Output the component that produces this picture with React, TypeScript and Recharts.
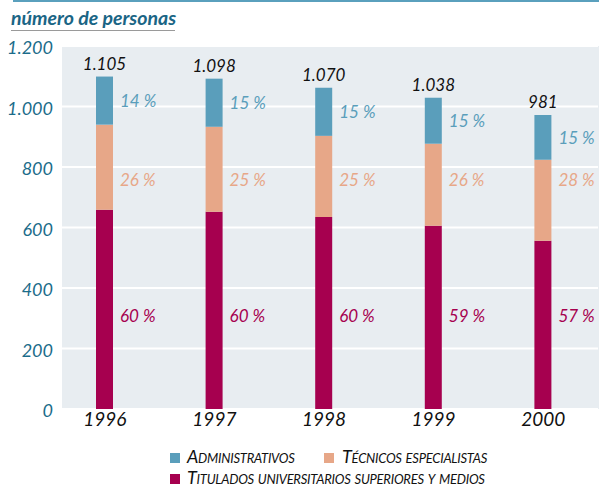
import React from 'react';
import { BarChart, Bar, XAxis, YAxis, CartesianGrid, LabelList } from 'recharts';

const years = ['1996', '1997', '1998', '1999', '2000'];
const titulados = [659, 652, 635, 606, 556];
const tecnicos = [281, 281, 268, 271, 268];
const administrativos = [159, 159, 159, 152, 148];
const totalLabels = ['1.105', '1.098', '1.070', '1.038', '981'];
const pctAdmin = ['14 %', '15 %', '15 %', '15 %', '15 %'];
const pctTec = ['26 %', '25 %', '25 %', '26 %', '28 %'];
const pctTit = ['60 %', '60 %', '60 %', '59 %', '57 %'];
const yTicks = [0, 200, 400, 600, 800, 1000, 1200];
const yTickLabels = ['0', '200', '400', '600', '800', '1.000', '1.200'];
const seriesNames = ['Administrativos', 'Técnicos especialistas', 'Titulados universitarios superiores y medios'];

const data = years.map((y, i) => ({
  year: y,
  titulados: titulados[i],
  tecnicos: tecnicos[i],
  administrativos: administrativos[i],
}));

const FONT = 'Lato, "Open Sans", sans-serif';
const C_BLUE = '#5a9ebb';
const C_SALMON = '#e7a788';
const C_MAROON = '#a6004f';
const C_TEAL = '#1b6c8a';

const geom = (p: any) => {
  const vb = p.viewBox || {};
  return {
    x: Number(p.x ?? vb.x),
    y: Number(p.y ?? vb.y),
    w: Number(p.width ?? vb.width),
    h: Number(p.height ?? vb.height),
    i: Number(p.index),
  };
};

const AdminLabel = (p: any) => {
  const { x, y, w, h, i } = geom(p);
  return (
    <g>
      <text x={x + w + 7} y={y + h / 2} dominantBaseline="central" fontFamily={FONT} fontStyle="italic" fontSize={17} fill={C_BLUE}>
        {pctAdmin[i]}
      </text>
      <text x={x + w / 2} y={y - 13.5} textAnchor="middle" dominantBaseline="central" fontFamily={FONT} fontStyle="italic" fontSize={17} fill="#111">
        {totalLabels[i]}
      </text>
    </g>
  );
};

const TecLabel = (p: any) => {
  const { x, y, w, h, i } = geom(p);
  const ppu = h / tecnicos[i];
  const ly = y + h - (760 - titulados[i]) * ppu;
  return (
    <text x={x + w + 7} y={ly} dominantBaseline="central" fontFamily={FONT} fontStyle="italic" fontSize={17} fill={C_SALMON}>
      {pctTec[i]}
    </text>
  );
};

const TitLabel = (p: any) => {
  const { x, y, w, h, i } = geom(p);
  const ppu = h / titulados[i];
  const ly = y + h - 310 * ppu;
  return (
    <text x={x + w + 7} y={ly} dominantBaseline="central" fontFamily={FONT} fontStyle="italic" fontSize={17} fill={C_MAROON}>
      {pctTit[i]}
    </text>
  );
};

const YTick = (p: any) => {
  const idx = yTicks.indexOf(Number(p.payload.value));
  return (
    <text x={p.x + 3} y={p.y + 1} textAnchor="end" dominantBaseline="central" fontFamily={FONT} fontStyle="italic" fontSize={18} fill={C_TEAL}>
      {yTickLabels[idx]}
    </text>
  );
};

const XTick = (p: any) => (
  <text x={p.x} y={p.y + 7} textAnchor="middle" dominantBaseline="central" fontFamily={FONT} fontStyle="italic" fontSize={19} fill="#111">
    {p.payload.value}
  </text>
);

const legendText: React.CSSProperties = {
  position: 'absolute',
  fontFamily: FONT,
  fontStyle: 'italic',
  fontVariant: 'small-caps',
  fontSize: 18,
  letterSpacing: '-0.25px',
  color: '#111',
  lineHeight: '18px',
  whiteSpace: 'nowrap',
};

const sq = (color: string, left: number, top: number): React.CSSProperties => ({
  position: 'absolute',
  left,
  top,
  width: 10,
  height: 10,
  background: color,
});

export default function App() {
  return (
    <div style={{ position: 'absolute', left: 0, top: 0, width: 599, height: 488, background: '#fff', overflow: 'hidden' }}>
      <div style={{ position: 'absolute', left: 13, top: 0, width: 586, height: 2, background: '#5aa0bd' }} />
      <div style={{ position: 'absolute', left: 11, top: 7, fontFamily: FONT, fontStyle: 'italic', fontWeight: 700, fontSize: 19.5, color: '#1a6585', lineHeight: '22px', whiteSpace: 'nowrap' }}>
        número de personas
      </div>
      <div style={{ position: 'absolute', left: 11, top: 30, width: 164, height: 1, background: '#9a9a9a' }} />
      <div style={{ position: 'absolute', left: 62, top: 46, width: 537, height: 363, background: '#e8edf1' }} />
      <div style={{ position: 'absolute', left: 0, top: 0 }}>
        <BarChart width={599} height={488} data={data} margin={{ top: 46, right: 1, bottom: 49, left: 0 }} barSize={17}>
          <CartesianGrid horizontal vertical={false} stroke="#ffffff" strokeWidth={2} />
          <XAxis dataKey="year" axisLine={false} tickLine={false} tickSize={0} height={30} tick={<XTick />} interval={0} />
          <YAxis domain={[0, 1200]} ticks={yTicks} width={50} axisLine={false} tickLine={false} tickSize={0} tickMargin={0} tick={<YTick />} interval={0} />
          <Bar dataKey="titulados" stackId="a" fill={C_MAROON} isAnimationActive={false}>
            <LabelList dataKey="titulados" content={<TitLabel />} />
          </Bar>
          <Bar dataKey="tecnicos" stackId="a" fill={C_SALMON} isAnimationActive={false}>
            <LabelList dataKey="tecnicos" content={<TecLabel />} />
          </Bar>
          <Bar dataKey="administrativos" stackId="a" fill={C_BLUE} isAnimationActive={false}>
            <LabelList dataKey="administrativos" content={<AdminLabel />} />
          </Bar>
        </BarChart>
      </div>
      <div style={sq(C_BLUE, 170, 453)} />
      <div style={{ ...legendText, left: 187, top: 447 }}>{seriesNames[0]}</div>
      <div style={sq(C_SALMON, 324, 453)} />
      <div style={{ ...legendText, left: 342, top: 447 }}>{seriesNames[1]}</div>
      <div style={sq(C_MAROON, 170, 474)} />
      <div style={{ ...legendText, left: 187, top: 468 }}>{seriesNames[2]}</div>
    </div>
  );
}
